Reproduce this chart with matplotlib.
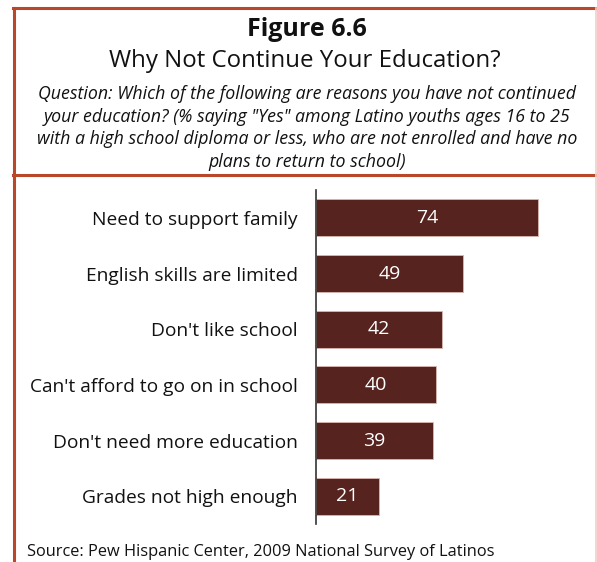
import matplotlib
matplotlib.use("Agg")
import matplotlib.pyplot as plt
from matplotlib.lines import Line2D

categories = [
    "Need to support family",
    "English skills are limited",
    "Don't like school",
    "Can't afford to go on in school",
    "Don't need more education",
    "Grades not high enough",
]
values = [74, 49, 42, 40, 39, 21]

title_main = "Figure 6.6"
title_sub = "Why Not Continue Your Education?"
question_lines = [
    "Question: Which of the following are reasons you have not continued",
    "your education? (% saying \"Yes\" among Latino youths ages 16 to 25",
    "with a high school diploma or less, who are not enrolled and have no",
    "plans to return to school)",
]
source = "Source: Pew Hispanic Center, 2009 National Survey of Latinos"

W, H = 597, 562
DPI = 100
plt.rcParams["font.family"] = ["Open Sans", "DejaVu Sans"]

fig = plt.figure(figsize=(W / DPI, H / DPI), dpi=DPI)
fig.patch.set_facecolor("white")

def fx(px):
    return px / W

def fy(py):
    return 1 - py / H

frame_col = "#b9472a"
# Frame lines around the header and down the left side
fig.add_artist(Line2D([fx(13), fx(597)], [fy(8), fy(8)], color=frame_col, lw=2.2))
fig.add_artist(Line2D([fx(14), fx(14)], [fy(8), fy(562)], color=frame_col, lw=2.2))
fig.add_artist(Line2D([fx(13), fx(597)], [fy(175), fy(175)], color=frame_col, lw=2.2))
fig.add_artist(Line2D([fx(595.5), fx(595.5)], [fy(8), fy(562)], color="#f4cdc6", lw=1.2))

# Header text
fig.text(fx(307), fy(30), title_main, ha="center", va="center",
         fontsize=18, fontweight="bold", color="#111111")
fig.text(fx(305), fy(61), title_sub, ha="center", va="center",
         fontsize=17.3, color="#111111")
for i, line in enumerate(question_lines):
    fig.text(fx(307), fy(94 + i * 22.7), line, ha="center", va="center",
             fontsize=12.8, style="italic", color="#111111")

# Bar chart
ax = fig.add_axes([fx(316), fy(524), 240 / W, 334 / H])
y = list(range(len(categories)))
bar_col = "#56231f"
bars = ax.barh(y, values, height=0.66, color=bar_col, edgecolor="#d9b8b0", linewidth=0.6)
ax.set_xlim(0, 80)
ax.set_ylim(5.5, -0.5)
for s in ["top", "right", "bottom"]:
    ax.spines[s].set_visible(False)
ax.spines["left"].set_color("#333333")
ax.spines["left"].set_linewidth(1.2)
ax.set_xticks([])
ax.set_yticks(y)
ax.set_yticklabels(categories, fontsize=13.8, color="#111111")
ax.tick_params(axis="y", length=0, pad=13)
for yi, v in zip(y, values):
    ax.text(v / 2, yi, str(v), ha="center", va="center", color="white", fontsize=14)

fig.text(fx(27), fy(552), source, ha="left", va="center", fontsize=11.8, color="#111111")

fig.savefig("out.png", dpi=DPI, facecolor="white")
